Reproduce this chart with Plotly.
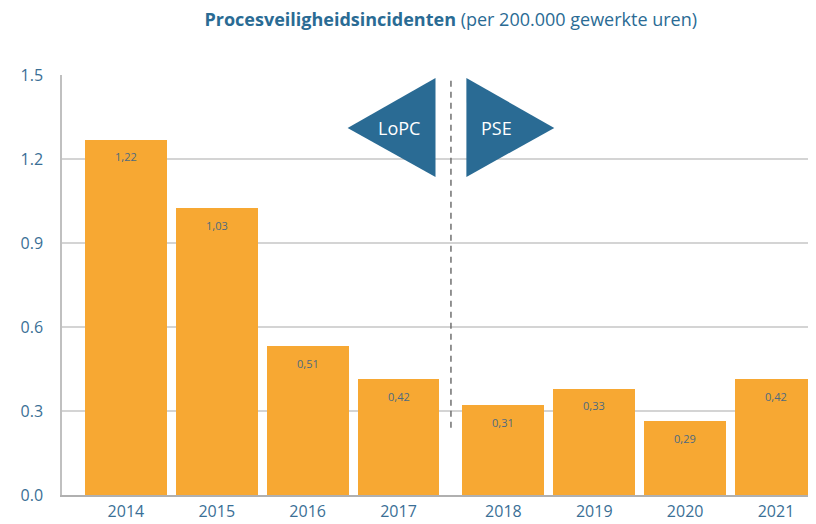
import plotly.graph_objects as go

years = ["2014", "2015", "2016", "2017", "2018", "2019", "2020", "2021"]
bar_values = [1.268, 1.025, 0.532, 0.414, 0.321, 0.379, 0.264, 0.414]
bar_labels = ["1,22", "1,03", "0,51", "0,42", "0,31", "0,33", "0,29", "0,42"]
y_ticks = [0.0, 0.3, 0.6, 0.9, 1.2, 1.5]
y_tick_labels = ["0.0", "0.3", "0.6", "0.9", "1.2", "1.5"]
period_labels = ["LoPC", "PSE"]

BLUE = "#2a6b94"
TXT = "#3a6f96"
ORANGE = "#F7A833"
FONT = "Open Sans"

gap = 0.154
xpos = [i + (gap if i >= 4 else 0) for i in range(len(years))]
divider = (xpos[3] + xpos[4]) / 2

fig = go.Figure()
fig.add_trace(go.Bar(
    x=xpos, y=bar_values, width=0.9,
    marker=dict(color=ORANGE, line=dict(width=0)),
    hoverinfo="skip",
))

annotations = []
for x, v, t in zip(xpos, bar_values, bar_labels):
    annotations.append(dict(x=x, y=v, xref="x", yref="y", text=t, showarrow=False,
                            yshift=-17, font=dict(family=FONT, size=11, color="#4d6a80")))

# period arrows
top, bot, mid = 1.489, 1.136, 1.311
near, far = 0.17, 1.137
shapes = [
    dict(type="path", xref="x", yref="y",
         path=f"M {divider-far} {mid} L {divider-near} {top} L {divider-near} {bot} Z",
         fillcolor=BLUE, line=dict(width=0), layer="above"),
    dict(type="path", xref="x", yref="y",
         path=f"M {divider+far} {mid} L {divider+near} {top} L {divider+near} {bot} Z",
         fillcolor=BLUE, line=dict(width=0), layer="above"),
    dict(type="line", xref="x", yref="y", x0=divider, x1=divider, y0=0.24, y1=1.48,
         line=dict(color="#707070", width=1.5, dash="6px,5px"), layer="above"),
]
annotations.append(dict(x=divider - 0.57, y=mid, xref="x", yref="y", text=period_labels[0],
                        showarrow=False, font=dict(family=FONT, size=18, color="white")))
annotations.append(dict(x=divider + 0.5, y=mid, xref="x", yref="y", text=period_labels[1],
                        showarrow=False, font=dict(family=FONT, size=18, color="white")))

fig.update_layout(
    width=808, height=516,
    margin=dict(l=54, r=0, t=67, b=29, autoexpand=False),
    paper_bgcolor="white", plot_bgcolor="white",
    showlegend=False,
    title=dict(text="<b>Procesveiligheidsincidenten</b> (per 200.000 gewerkte uren)",
               x=0.548, xanchor="center", y=0.977, yanchor="middle",
               font=dict(family=FONT, size=18, color=BLUE)),
    xaxis=dict(range=[-0.703, xpos[-1] + 0.44], tickmode="array", tickvals=xpos,
               ticktext=years, showgrid=False, zeroline=False,
               showline=True, linecolor="#b0b0b0", linewidth=1.5,
               ticklabelstandoff=1,
               tickfont=dict(family=FONT, size=16, color=TXT), ticks=""),
    yaxis=dict(range=[0, 1.5], tickmode="array", tickvals=y_ticks, ticktext=y_tick_labels,
               showgrid=True, gridcolor="#d4d4d4", gridwidth=1.5, zeroline=False,
               showline=True, linecolor="#c0c0c0", linewidth=1.5, ticks="",
               ticklabelstandoff=14,
               tickfont=dict(family=FONT, size=16, color=TXT)),
    shapes=shapes, annotations=annotations,
    bargap=0,
)

fig.write_html("out.html")
